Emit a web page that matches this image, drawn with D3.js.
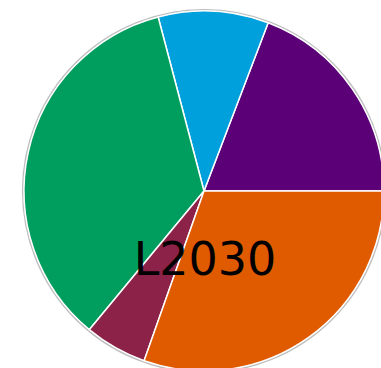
<!DOCTYPE html>
<html>
<head>
<meta charset="utf-8">
<script src="https://cdn.jsdelivr.net/npm/d3@7"></script>
<style>
html,body{margin:0;padding:0;background:#fff;overflow:hidden;}
svg{display:block;}
</style>
</head>
<body>
<svg id="chart" width="381" height="368"></svg>
<script>
const categories = ["A", "B", "C", "D", "E"];
const values = [19.2, 9.9, 34.9, 5.6, 30.4];
const colors = ["#5c0078", "#00a0dc", "#009e5e", "#8c2248", "#e05a00"];
const title = "L2030";

const svg = d3.select("#chart");
const cx = 204, cy = 191, r = 180;
const g = svg.append("g").attr("transform", `translate(${cx},${cy})`);

const pie = d3.pie().sort(null).value(d => d.v)
  .startAngle(Math.PI / 2).endAngle(Math.PI / 2 - 2 * Math.PI);
const data = categories.map((c, i) => ({c, v: values[i], col: colors[i]}));
const arc = d3.arc().innerRadius(0).outerRadius(r);

g.append("circle").attr("r", r + 1).attr("fill", "none")
  .attr("stroke", "#bdbdbd").attr("stroke-width", 2.2);

g.selectAll("path.slice").data(pie(data)).join("path")
  .attr("class", "slice")
  .attr("d", arc)
  .attr("fill", d => d.data.col)
  .attr("stroke", "#ffffff")
  .attr("stroke-width", 1.5)
  .attr("stroke-linejoin", "round");

svg.append("text")
  .attr("x", 205).attr("y", 275)
  .attr("text-anchor", "middle")
  .attr("font-family", "DejaVu Sans, sans-serif")
  .attr("font-size", 46)
  .attr("fill", "#000")
  .text(title);
</script>
</body>
</html>
